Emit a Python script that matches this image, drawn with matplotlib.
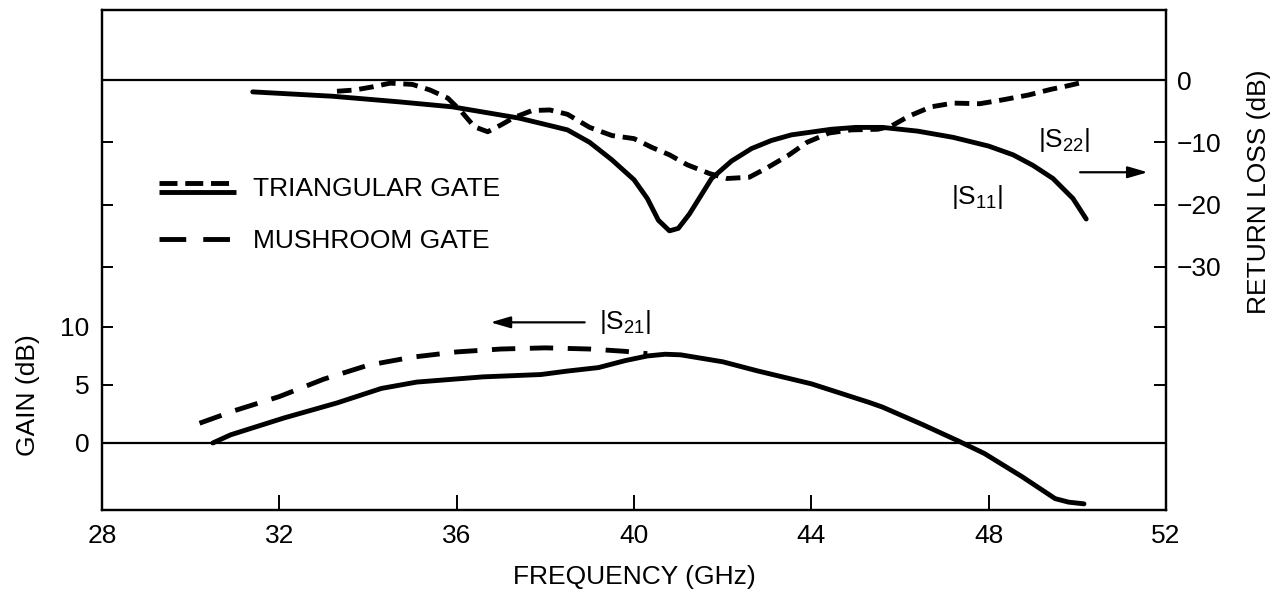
import numpy as np
import matplotlib
matplotlib.use("Agg")
import matplotlib.pyplot as plt
from matplotlib.lines import Line2D
from matplotlib.legend_handler import HandlerBase

plt.rcParams['font.family'] = ['Liberation Sans', 'DejaVu Sans']
plt.rcParams['mathtext.fontset'] = 'custom'
plt.rcParams['mathtext.rm'] = 'Liberation Sans'
plt.rcParams['mathtext.it'] = 'Liberation Sans'

# |S21| gain (dB), triangular gate (solid)
f_s21_tri = [30.5, 30.9, 32.1, 33.3, 34.3, 35.1, 36.6, 37.9, 38.5, 39.2, 39.8, 40.3,
             40.7, 41.05, 42.0, 42.8, 44.0, 45.3, 45.6, 46.5, 47.3, 47.9, 48.75, 49.5,
             49.8, 50.15]
g_s21_tri = [0.0, 0.7, 2.15, 3.45, 4.7, 5.25, 5.7, 5.9, 6.2, 6.5, 7.1, 7.5,
             7.65, 7.6, 7.0, 6.2, 5.1, 3.5, 3.1, 1.6, 0.2, -0.9, -2.9, -4.8,
             -5.1, -5.25]

# |S21| gain (dB), mushroom gate (long dash)
f_s21_mush = [30.2, 31.0, 32.0, 33.0, 34.0, 35.0, 36.0, 37.0, 38.0, 39.0, 39.8, 40.3]
g_s21_mush = [1.7, 2.8, 4.0, 5.5, 6.7, 7.4, 7.85, 8.1, 8.2, 8.1, 7.9, 7.7]

# |S11| return loss (dB), solid
f_s11 = [31.4, 33.2, 34.7, 35.9, 37.4, 38.1, 38.5, 39.0, 39.5, 40.0, 40.3, 40.55, 40.8,
         41.0, 41.25, 41.75, 42.2, 42.65, 43.1, 43.55, 44.45, 45.0, 45.6, 46.4, 47.2,
         48.0, 48.55, 49.0, 49.45, 49.9, 50.2]
rl_s11 = [-1.9, -2.6, -3.5, -4.3, -6.1, -7.3, -8.0, -10.0, -12.8, -16.0, -19.0, -22.5, -24.2,
          -23.8, -21.5, -15.8, -13.0, -11.0, -9.7, -8.8, -7.9, -7.6, -7.6, -8.2, -9.2,
          -10.6, -12.0, -13.7, -15.8, -19.0, -22.3]

# |S22| return loss (dB), short dash
f_s22 = [33.3, 33.7, 34.1, 34.5, 35.0, 35.4, 35.8, 36.1, 36.4, 36.7, 37.0, 37.3, 37.7,
         38.1, 38.5, 39.0, 39.5, 40.0, 40.4, 40.8, 41.2, 41.7, 42.1, 42.6, 43.0, 43.5,
         43.9, 44.4, 44.9, 45.5, 45.8, 46.2, 46.7, 47.2, 47.8, 48.3, 48.9, 49.4, 49.8, 50.1]
rl_s22 = [-1.8, -1.6, -1.1, -0.5, -0.7, -1.6, -2.9, -5.0, -7.5, -8.3, -7.2, -6.0, -4.9,
          -4.8, -5.5, -7.6, -8.9, -9.4, -10.8, -12.0, -13.6, -15.0, -15.8, -15.6, -14.1, -12.0,
          -10.0, -8.5, -8.0, -7.9, -7.4, -5.8, -4.3, -3.7, -3.8, -3.2, -2.4, -1.5, -0.9, -0.4]

x_ticks = [28, 32, 36, 40, 44, 48, 52]
gain_ticks = [0, 5, 10]
rl_ticks = [0, -10, -20, -30]

GAIN_LIM = (-5.78, 37.33)
RL_LIM = (-69.0, 11.24)


def rl_to_gain(v):
    v = np.asarray(v, float)
    frac = (v - RL_LIM[0]) / (RL_LIM[1] - RL_LIM[0])
    return GAIN_LIM[0] + frac * (GAIN_LIM[1] - GAIN_LIM[0])


def gain_to_rl(v):
    v = np.asarray(v, float)
    frac = (v - GAIN_LIM[0]) / (GAIN_LIM[1] - GAIN_LIM[0])
    return RL_LIM[0] + frac * (RL_LIM[1] - RL_LIM[0])


class StackedHandler(HandlerBase):
    # draws the tuple of lines one above the other
    def create_artists(self, legend, orig_handle, xdescent, ydescent, width, height,
                       fontsize, trans):
        arts = []
        n = len(orig_handle)
        for i, h in enumerate(orig_handle):
            off = (i - (n - 1) / 2.0) * 6.5
            y = height / 2.0 - ydescent - off
            ln = Line2D([-xdescent, width - xdescent], [y, y],
                        color=h.get_color(), lw=h.get_linewidth(),
                        linestyle=h.get_linestyle(), solid_capstyle='butt',
                        dash_capstyle='butt')
            ln.set_transform(trans)
            arts.append(ln)
        return arts


lw = 3.5
short_dash = (0, (3.0, 1.6))
long_dash = (0, (4.8, 3.0))

fig = plt.figure(figsize=(12.79, 5.96), dpi=100)
ax = fig.add_axes([102 / 1279, 86 / 596, 1064 / 1279, 500 / 596])
ax2 = ax.twinx()

ax.plot(f_s21_tri, g_s21_tri, color='black', lw=lw, solid_capstyle='round',
        solid_joinstyle='round')
ax.plot(f_s21_mush, g_s21_mush, color='black', lw=lw, linestyle=long_dash)
ax2.plot(f_s11, rl_s11, color='black', lw=lw, solid_capstyle='round',
         solid_joinstyle='round')
ax2.plot(f_s22, rl_s22, color='black', lw=lw, linestyle=short_dash)

ax.axhline(0, color='black', lw=1.6)
ax2.axhline(0, color='black', lw=1.6)

ax.set_xlim(28, 52)
ax.set_ylim(*GAIN_LIM)
ax2.set_ylim(*RL_LIM)

ax.set_xticks(x_ticks)
ax.set_xticklabels([str(v) for v in x_ticks])
ax.set_yticks(gain_ticks)
ax.set_yticklabels([str(v) for v in gain_ticks])
ax.set_yticks(rl_to_gain(rl_ticks[1:]), minor=True)
ax2.set_yticks(rl_ticks)
ax2.set_yticklabels(['0' if v == 0 else '\u2212' + str(-v) for v in rl_ticks])
ax2.set_yticks(gain_to_rl(gain_ticks[1:]), minor=True)

ax.tick_params(axis='x', direction='in', length=11, width=1.4, labelsize=19, pad=10,
               top=False)
ax.tick_params(axis='y', which='both', direction='in', length=8, width=1.4,
               labelsize=19, pad=9)
ax2.tick_params(axis='y', which='both', direction='in', length=9, width=1.4,
                labelsize=19, pad=8)

for a in (ax, ax2):
    for s in a.spines.values():
        s.set_linewidth(1.6)

ax.set_xlabel('FREQUENCY (GHz)', fontsize=19, labelpad=12)
ax.set_ylabel('GAIN (dB)', fontsize=19)
ax.yaxis.set_label_coords(-0.058, 0.23)
ax2.set_ylabel('RETURN LOSS (dB)', fontsize=19)
ax2.yaxis.set_label_coords(1.076, 0.636)

# labels and arrows
ax2.text(49.7, -9.6, r'$|\mathrm{S}_{22}|$', fontsize=19, ha='center', va='center')
ax2.annotate('', xy=(51.65, -14.8), xytext=(50.0, -14.8),
             arrowprops=dict(arrowstyle='-|>,head_length=1.2,head_width=0.35',
                             color='black', lw=1.6))
ax2.text(47.75, -18.8, r'$|\mathrm{S}_{11}|$', fontsize=19, ha='center', va='center')
ax.text(39.8, 10.4, r'$|\mathrm{S}_{21}|$', fontsize=19, ha='center', va='center')
ax.annotate('', xy=(36.7, 10.4), xytext=(38.95, 10.4),
            arrowprops=dict(arrowstyle='-|>,head_length=1.2,head_width=0.35',
                            color='black', lw=1.6))

h_dash = Line2D([], [], color='black', lw=lw, linestyle=(0, (3.3, 1.6)))
h_solid = Line2D([], [], color='black', lw=lw)
h_mush = Line2D([], [], color='black', lw=lw, linestyle=(0, (5.5, 3.5)))
ax.legend([(h_dash, h_solid), h_mush], ['TRIANGULAR GATE', 'MUSHROOM GATE'],
          handler_map={tuple: StackedHandler()},
          loc='upper left', bbox_to_anchor=(0.054, 0.665), frameon=False,
          fontsize=19, handlelength=2.9, handletextpad=0.65, labelspacing=1.05,
          borderpad=0, borderaxespad=0)

fig.savefig('out.png', dpi=100)
